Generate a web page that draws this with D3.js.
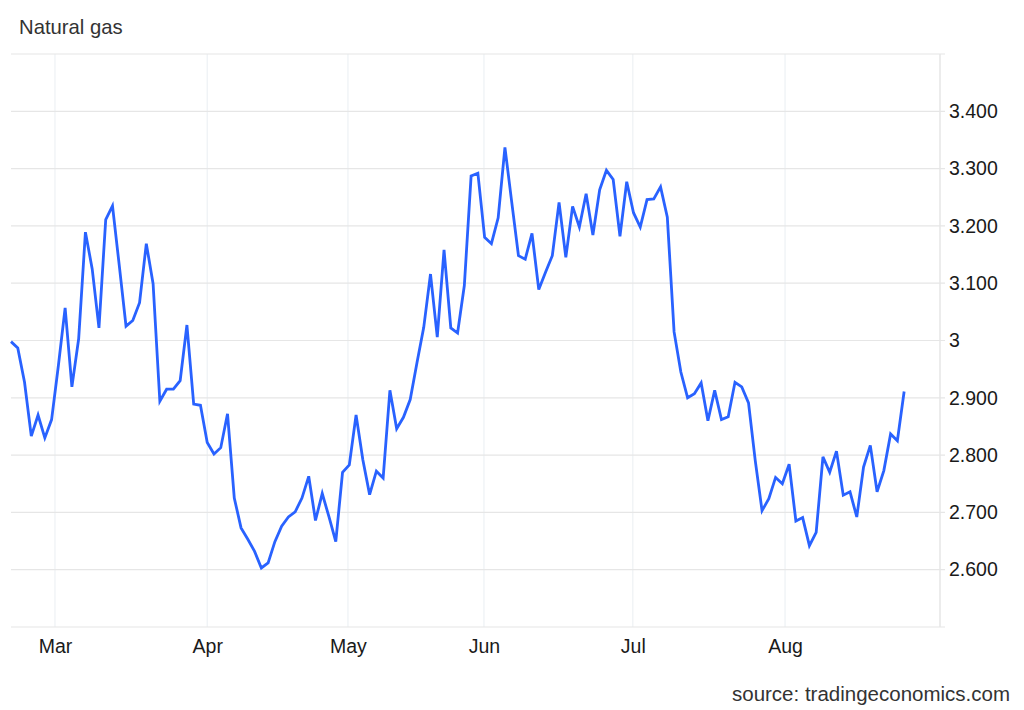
<!DOCTYPE html>
<html>
<head>
<meta charset="utf-8">
<script src="https://cdn.jsdelivr.net/npm/d3@7"></script>
<style>
  body { margin: 0; background: #fff; }
  text { font-family: "Liberation Sans", Arial, sans-serif; }
</style>
</head>
<body>
<div id="chart"></div>
<script>
// Daily closes, one per trading session
const prices = [
    2.998, 2.987, 2.927, 2.833, 2.870, 2.830, 2.862, 2.956, 3.057, 2.919,
    3.003, 3.189, 3.125, 3.022, 3.211, 3.235, 3.131, 3.025, 3.035, 3.066,
    3.169, 3.099, 2.894, 2.915, 2.915, 2.930, 3.027, 2.889, 2.887, 2.822,
    2.802, 2.813, 2.872, 2.725, 2.673, 2.653, 2.632, 2.603, 2.612, 2.649,
    2.676, 2.692, 2.701, 2.725, 2.763, 2.686, 2.733, 2.692, 2.649, 2.770,
    2.783, 2.870, 2.792, 2.731, 2.772, 2.760, 2.913, 2.846, 2.866, 2.897,
    2.961, 3.023, 3.116, 3.006, 3.158, 3.022, 3.013, 3.096, 3.287, 3.292,
    3.180, 3.169, 3.214, 3.337, 3.242, 3.148, 3.142, 3.187, 3.089, 3.119,
    3.148, 3.241, 3.145, 3.234, 3.198, 3.256, 3.184, 3.263, 3.297, 3.281,
    3.182, 3.277, 3.223, 3.198, 3.246, 3.247, 3.268, 3.215, 3.015, 2.945,
    2.900, 2.907, 2.926, 2.860, 2.913, 2.862, 2.867, 2.927, 2.919, 2.891,
    2.790, 2.703, 2.724, 2.761, 2.750, 2.784, 2.685, 2.691, 2.642, 2.665,
    2.797, 2.770, 2.807, 2.730, 2.736, 2.692, 2.779, 2.817, 2.736, 2.773,
    2.837, 2.825, 2.911
];

// Month labels and where each month starts, in session units (ordinal axis)
const monthLabels = ["Mar", "Apr", "May", "Jun", "Jul", "Aug"];
const monthStarts = [6.5, 29, 49.8, 69.9, 91.9, 114.4];

// Price axis
const yTicks = [2.6, 2.7, 2.8, 2.9, 3.0, 3.1, 3.2, 3.3, 3.4];
const yDomain = [2.5, 3.5];

// Empty sessions kept after the last point
const rightPad = 5.3;

const margin = { top: 54, right: 84, bottom: 83, left: 11 },
    width = 1024 - margin.left - margin.right,
    height = 710 - margin.top - margin.bottom;

const svgRoot = d3.select("#chart")
    .append("svg")
    .attr("width", 1024)
    .attr("height", 710);

const svg = svgRoot.append("g")
    .attr("transform", `translate(${margin.left},${margin.top})`);

const x = d3.scaleLinear()
    .domain([0, prices.length - 1 + rightPad])
    .range([0, width]);

const y = d3.scaleLinear()
    .domain(yDomain)
    .range([height, 0]);

// Vertical month grid lines
svg.selectAll("line.vgrid")
    .data(monthStarts)
    .enter()
    .append("line")
    .attr("class", "vgrid")
    .attr("x1", d => x(d))
    .attr("x2", d => x(d))
    .attr("y1", 0)
    .attr("y2", height)
    .style("stroke", "#edf1f4")
    .style("stroke-width", 1.2);

// Horizontal grid lines (incl. top and bottom edges)
svg.selectAll("line.hgrid")
    .data([yDomain[0]].concat(yTicks, [yDomain[1]]))
    .enter()
    .append("line")
    .attr("class", "hgrid")
    .attr("x1", 0)
    .attr("x2", width + 5)
    .attr("y1", d => y(d))
    .attr("y2", d => y(d))
    .style("stroke", "#e6e6e6")
    .style("stroke-width", 1.2);

// Right axis line
svg.append("line")
    .attr("x1", width)
    .attr("x2", width)
    .attr("y1", 0)
    .attr("y2", height)
    .style("stroke", "#e6e6e6")
    .style("stroke-width", 1.5);

// Y axis labels on the right
const yAxis = svg.append("g")
    .attr("transform", `translate(${width}, 0)`)
    .call(d3.axisRight(y)
        .tickValues(yTicks)
        .tickSize(0)
        .tickPadding(9)
        .tickFormat(d => Math.abs(d - 3) < 1e-9 ? "3" : d3.format(".3f")(d)));
yAxis.select(".domain").remove();
yAxis.selectAll("text")
    .style("font-size", "19.5px")
    .style("fill", "#1a1a1a");

// X axis month labels
const xAxis = svg.append("g")
    .attr("transform", `translate(0, ${height})`)
    .call(d3.axisBottom(x)
        .tickValues(monthStarts)
        .tickSize(0)
        .tickPadding(12)
        .tickFormat((d, i) => monthLabels[i]));
xAxis.select(".domain").remove();
xAxis.selectAll("text")
    .style("font-size", "19.5px")
    .style("fill", "#1a1a1a");

// Price line
const line = d3.line()
    .x((d, i) => x(i))
    .y(d => y(d));

svg.append("path")
    .datum(prices)
    .attr("d", line)
    .style("fill", "none")
    .style("stroke", "#2962ff")
    .style("stroke-width", 2.8)
    .style("stroke-linejoin", "miter")
    .style("stroke-miterlimit", 4);

// Title
svgRoot.append("text")
    .attr("x", 19)
    .attr("y", 34)
    .style("font-size", "20.3px")
    .style("fill", "#333")
    .text("Natural gas");

// Source
svgRoot.append("text")
    .attr("x", 1010)
    .attr("y", 701)
    .attr("text-anchor", "end")
    .style("font-size", "20.5px")
    .style("fill", "#333")
    .text("source: tradingeconomics.com");
</script>
</body>
</html>
